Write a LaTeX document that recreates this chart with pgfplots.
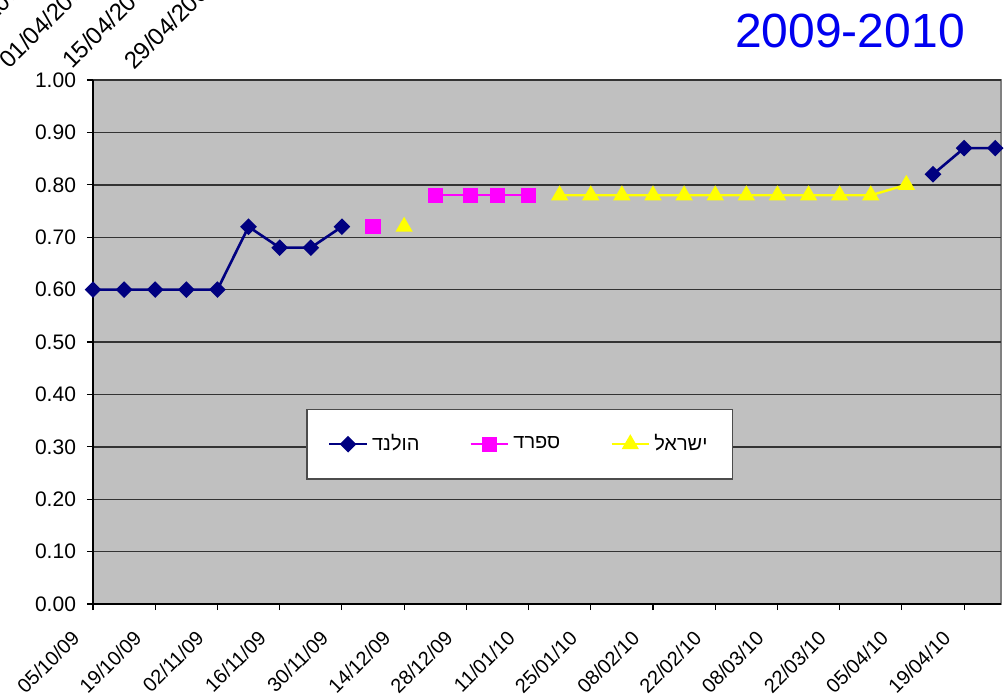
\documentclass[border=0pt]{standalone}
\usepackage{pgfplots}
\pgfplotsset{compat=1.18}
\usepackage{fontspec}
\setmainfont{Liberation Sans}
\newfontfamily\hebfont[Script=Hebrew]{Liberation Sans}
\TeXXeTstate=1
\definecolor{navyc}{HTML}{000080}
\definecolor{magc}{HTML}{FF00FF}
\definecolor{yelc}{HTML}{FFFF00}
\definecolor{silverc}{HTML}{C0C0C0}
\definecolor{titleblue}{HTML}{0000F0}
\begin{document}
\begin{tikzpicture}
\useasboundingbox (0,0) rectangle (504pt,349pt);
\begin{axis}[
  at={(46.5pt,47pt)}, anchor=south west,
  scale only axis, width=454pt, height=262pt,
  xmin=0, xmax=204.3, ymin=0, ymax=1,
  clip=false,
  axis background/.style={fill=silverc, draw=black!50, line width=0.6pt},
  axis x line*=bottom, axis y line*=left,
  axis line style={black, line width=0.6pt},
  tick align=outside,
  major tick length=3pt,
  tick style={black, line width=0.6pt},
  xtick={0,14,28,42,56,70,84,98,112,126,140,154,168,182,196},
  xticklabels={05/10/09,19/10/09,02/11/09,16/11/09,30/11/09,14/12/09,28/12/09,11/01/10,25/01/10,08/02/10,22/02/10,08/03/10,22/03/10,05/04/10,19/04/10},
  ytick={0,0.1,0.2,0.3,0.4,0.5,0.6,0.7,0.8,0.9,1.0},
  ymajorgrids,
  major grid style={black!80, line width=0.7pt},
  /pgf/number format/assume math mode=true,
  yticklabel style={/pgf/number format/fixed, /pgf/number format/fixed zerofill, /pgf/number format/precision=2, font=\fontsize{10.5}{12}\selectfont, xshift=-2pt},
  xticklabel style={font=\fontsize{10}{12}\selectfont, xshift=-11.3pt, yshift=-8pt, rotate=45, anchor=north east, inner sep=1pt},
  unbounded coords=jump,
  legend image code/.code={\draw[mark repeat=2,mark phase=2] plot coordinates {(0cm,0cm) (0.33cm,0cm) (0.66cm,0cm)};},
  legend style={at={(0.47,0.305)}, anchor=center, draw=black!70, fill=white, line width=0.7pt,
    legend columns=3, font=\fontsize{10}{12}\selectfont, inner xsep=10.5pt, inner ysep=10.5pt,
    /tikz/every even column/.append style={column sep=23pt}},
]
\addplot[color=navyc, line width=1.3pt, mark=square*, mark size=2.3pt, mark options={rotate=45, solid}]
coordinates {(0,0.60) (7,0.60) (14,0.60) (21,0.60) (28,0.60) (35,0.72) (42,0.68) (49,0.68) (56,0.72) (120,nan) (189,0.82) (196,0.87) (203,0.87)};
\addlegendentry{\hebfont\beginR הולנד\endR}
\addplot[color=magc, line width=1.2pt, mark=square*, mark size=3.2pt, mark options={solid}]
coordinates {(63,0.72) (70,nan) (77,0.78) (85,0.78) (91,0.78) (98,0.78)};
\addlegendentry{\hebfont\beginR ספרד\endR}
\addplot[color=yelc, line width=1.2pt, mark=triangle*, mark size=3.8pt, mark options={solid}]
coordinates {(70,0.72) (85,nan) (105,0.78) (112,0.78) (119,0.78) (126,0.78) (133,0.78) (140,0.78) (147,0.78) (154,0.78) (161,0.78) (168,0.78) (175,0.78) (183,0.80)};
\addlegendentry{\hebfont\beginR ישראל\endR}
\end{axis}
\node[anchor=base, text=titleblue, font=\fontsize{24}{28}\selectfont] at (425pt,325pt) {2009-2010};
\begin{scope}[every node/.style={font=\fontsize{12}{14}\selectfont, rotate=45, anchor=base west, inner sep=0pt}]
\node at (-27pt,314pt) {18/03/2009};
\node at (4.5pt,314pt) {01/04/2009};
\node at (36pt,314pt) {15/04/2009};
\node at (67pt,313.5pt) {29/04/2009};
\end{scope}
\end{tikzpicture}
\end{document}
